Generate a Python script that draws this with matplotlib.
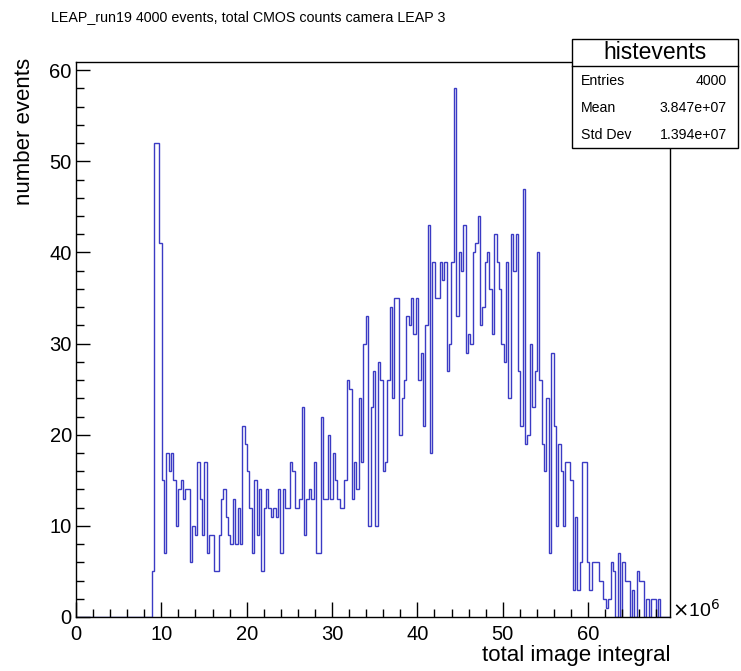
import numpy as np
import matplotlib
matplotlib.use("Agg")
import matplotlib.pyplot as plt
from matplotlib.patches import Rectangle
from matplotlib.ticker import MultipleLocator

plt.rcParams['font.family'] = ['Liberation Sans', 'DejaVu Sans']

# histogram: 250 bins from 0 to 69.6e6 (x in units of 1e6)
xmin = 0.0
xmax = 69.6
nbins = 250

# bin contents (bins 0..249)
counts_empty = [0] * 32
counts_a = [5, 52, 52, 41, 15, 7, 18, 16, 18, 15, 10, 14, 15, 13, 14, 14, 6, 10, 9, 17,
            13, 9, 17, 7, 9, 9, 5, 5, 9, 13, 14, 11, 9, 8, 13, 8, 12, 8, 21, 19]
counts_b = [16, 12, 7, 15, 9, 14, 5, 12, 14, 12, 11, 12, 11, 14, 7, 14, 12, 12, 17, 16,
            12, 12, 13, 23, 9, 13, 14, 13, 17, 7, 7, 22, 13, 13, 20, 13, 18, 15, 13]
counts_c = [12, 12, 15, 26, 25, 13, 17, 14, 24, 17, 30, 33, 10, 23, 27, 10, 28, 26, 16, 17,
            26, 34, 24, 35, 35, 20, 24, 26, 33, 32, 35, 31, 35, 26, 29, 21, 32, 43, 18, 39,
            35, 35]
counts_d = [39, 37, 39, 27, 30, 39, 58, 33, 40, 38, 43, 29, 31, 30, 40, 41, 44, 32, 34, 39,
            40, 36, 31, 42, 39, 36, 30, 28, 39, 24, 42, 38, 42, 27, 21, 47, 19, 20, 30, 23,
            27, 40, 26, 19, 16, 24, 7]
counts_e = [29, 21, 10, 19, 16, 10, 17, 17, 15, 3, 11, 3, 6, 17, 17, 6, 3, 6, 6, 6,
            4, 4, 2, 1, 2, 6, 5, 0, 7, 0, 6, 4, 4, 0, 3, 0, 5, 4, 4, 0,
            2, 0, 2, 2, 0, 2, 0, 0, 0, 0]
counts = np.array(counts_empty + counts_a + counts_b + counts_c + counts_d + counts_e)
edges = np.linspace(xmin, xmax, nbins + 1)

title = "LEAP_run19 4000 events, total CMOS counts camera LEAP 3"
stats_name = "histevents"
stats_rows = [("Entries", "4000"), ("Mean", "3.847e+07"), ("Std Dev", "1.394e+07")]

W, H = 741, 671
fig = plt.figure(figsize=(W / 100, H / 100), dpi=100)


def fx(x):
    return x / W


def fy(y):
    return 1 - y / H


# frame in pixels: left 76, right 670, top 62, bottom 617
ax = fig.add_axes([fx(76), fy(617), fx(670) - fx(76), fy(62) - fy(617)])
ax.stairs(counts, edges, color='#3b3bc4', lw=1.0)
ax.set_xlim(xmin, xmax)
ax.set_ylim(0, 60.9)

ax.xaxis.set_major_locator(MultipleLocator(10))
ax.xaxis.set_minor_locator(MultipleLocator(2))
ax.yaxis.set_major_locator(MultipleLocator(10))
ax.yaxis.set_minor_locator(MultipleLocator(2))
ax.tick_params(which='both', direction='in', top=False, right=False, labelsize=14.5)
ax.tick_params(axis='x', which='major', length=11, width=1, pad=6)
ax.tick_params(axis='x', which='minor', length=5.5, width=1)
ax.tick_params(axis='y', which='major', length=10, width=1, pad=3)
ax.tick_params(axis='y', which='minor', length=6, width=1)
for s in ax.spines.values():
    s.set_linewidth(1)

fig.text(fx(25), fy(58), "number events", rotation=90, ha='center', va='top', fontsize=16)
fig.text(fx(670), fy(645), "total image integral", ha='right', va='top', fontsize=16)
fig.text(fx(672), fy(610), r"$\times$10$^{6}$", ha='left', va='center', fontsize=14)

fig.text(fx(51), fy(17), title, ha='left', va='center', fontsize=10.3)

# stats box
bx0, bx1, by0, by1 = 572, 738, 39, 148
fig.patches.append(Rectangle((fx(bx0), fy(by1)), fx(bx1) - fx(bx0), fy(by0) - fy(by1),
                             transform=fig.transFigure, facecolor='white', edgecolor='black',
                             lw=1, zorder=5))
fig.lines.append(plt.Line2D([fx(bx0), fx(bx1)], [fy(66), fy(66)], transform=fig.transFigure,
                            color='black', lw=1, zorder=6))
fig.text(fx((bx0 + bx1) / 2), fy(52.5), stats_name, ha='center', va='center', fontsize=16.5, zorder=7)
row_y = [81, 108, 135]
for (lab, val), yy in zip(stats_rows, row_y):
    fig.text(fx(581), fy(yy), lab, ha='left', va='center', fontsize=10.2, zorder=7)
    fig.text(fx(727), fy(yy), val, ha='right', va='center', fontsize=10.2, zorder=7)

fig.savefig("out.png", dpi=100)
